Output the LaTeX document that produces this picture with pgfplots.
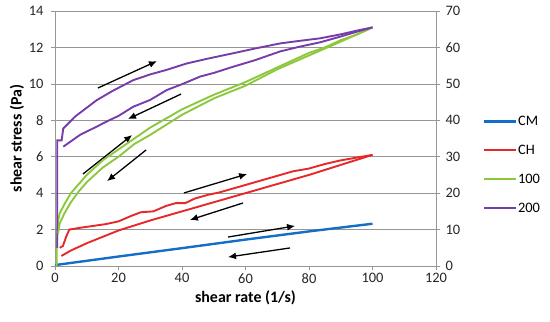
\documentclass[border=0pt]{standalone}
\usepackage{pgfplots}
\pgfplotsset{compat=1.18}
\usepackage{fontspec}
\setmainfont{Carlito}
\usetikzlibrary{arrows.meta}
\definecolor{cmblue}{RGB}{20,110,200}
\definecolor{chred}{RGB}{232,40,40}
\definecolor{grn}{RGB}{140,200,60}
\definecolor{purp}{RGB}{118,60,170}
\definecolor{gridgray}{RGB}{150,150,150}
\newcommand{\tfont}{\fontsize{14.5}{16}\selectfont}
\newcommand{\lfont}{\fontsize{16}{18}\selectfont}
\begin{document}
\begin{tikzpicture}
\pgfplotsset{
  every axis/.append style={
    scale only axis, width=381bp, height=255bp,
    xmin=0, xmax=120,
    /pgf/number format/assume math mode=true,
    axis line style={gridgray},
    tick style={gridgray, line width=0.6pt},
    major tick length=4bp,
    tick align=outside,
  },
  every tick label/.append style={font=\tfont, text=black!85},
}
\begin{axis}[
  ymin=0, ymax=14,
  xtick={0,20,...,120}, ytick={0,2,...,14},
  xtick pos=bottom, ytick pos=left,
  ymajorgrids, grid style={gridgray, line width=0.6pt},
  xlabel={\lfont\bfseries shear rate (1/s)},
  ylabel={\lfont\bfseries shear stress (Pa)},
  xlabel style={yshift=0bp},
  ylabel style={yshift=-2bp},
  yticklabel style={xshift=-4bp},
]
% CM
\addplot[cmblue, line width=2.4pt] coordinates {(0,0.05)(20,0.52)(40,0.98)(60,1.45)(80,1.9)(100,2.32)};
% CH up
\addplot[chred, line width=1.9pt] coordinates {
(1.5,1.0)(2.5,1.1)(3.5,1.6)(4.5,2.0)(8,2.1)(12,2.2)(16,2.3)(20,2.45)(24,2.75)(27,2.95)(31,3.0)(35,3.3)(38,3.45)(41,3.45)(44,3.7)(48,3.9)(52,4.05)(56,4.25)(60,4.45)(65,4.7)(70,4.95)(75,5.2)(80,5.35)(85,5.6)(90,5.8)(95,5.95)(100,6.1)};
% CH down
\addplot[chred, line width=1.9pt] coordinates {
(2,0.55)(5,0.85)(10,1.25)(15,1.6)(20,1.95)(30,2.5)(40,3.0)(50,3.5)(60,4.0)(70,4.5)(80,5.0)(90,5.55)(100,6.1)};
% arrows
\tikzset{annarrow/.style={-{Latex[length=8pt,width=7pt]}, line width=1.3pt}}
\draw[annarrow] (axis cs:13.5,9.77) -- (axis cs:32.1,11.25);
\draw[annarrow] (axis cs:39.7,9.44) -- (axis cs:23.0,8.07);
\draw[annarrow] (axis cs:8.8,5.05) -- (axis cs:24.3,7.19);
\draw[annarrow] (axis cs:28.7,6.37) -- (axis cs:16.4,4.66);
\draw[annarrow] (axis cs:40.6,4.01) -- (axis cs:60.5,5.05);
\draw[annarrow] (axis cs:59.2,3.46) -- (axis cs:42.5,2.53);
\draw[annarrow] (axis cs:54.5,1.59) -- (axis cs:75.6,2.20);
\draw[annarrow] (axis cs:74.0,0.99) -- (axis cs:54.5,0.49);
\end{axis}
\begin{axis}[
  ymin=0, ymax=70,
  ytick={0,10,...,70},
  axis x line=none,
  axis y line*=right,
  yticklabel style={xshift=2bp},
  legend style={at={(1.122,0.595)}, anchor=north west, draw=none, fill=none,
    font=\tfont, row sep=14pt, inner sep=0pt,
    legend cell align=left,
    nodes={inner xsep=1pt}},
  legend image code/.code={\draw[#1] (0bp,0.4bp) -- (32bp,0.4bp);},
]
\addlegendimage{cmblue, line width=2.4pt}
\addlegendentry{CM}
\addlegendimage{chred, line width=2.4pt}
\addlegendentry{CH}
\addlegendimage{grn, line width=2.4pt}
\addlegendentry{100}
\addlegendimage{purp, line width=2.4pt}
\addlegendentry{200}
% 100 up
\addplot[grn, line width=1.9pt, forget plot] coordinates {
(0.5,0)(0.5,5)(1,12.5)(1.5,14.5)(3,17)(5,20)(7.5,22.5)(10,25)(12.5,27)(15,29)(20,32)(25,35)(30,38)(35,40.5)(40,43)(45,45)(50,47)(55,48.75)(60,50.5)(65,52.5)(70,54.5)(75,56.5)(80,58.5)(85,60)(90,62)(95,63.5)(100,65.5)};
% 200 up
\addplot[purp, line width=1.9pt, forget plot] coordinates {
(0.7,5)(0.7,34.5)(2.1,34.5)(2.6,37.75)(6.3,41)(13.1,45.5)(18,48)(24.6,51)(30,52.6)(35,53.8)(41.5,55.6)(48,56.9)(56.1,58.4)(63,59.7)(70.9,61.1)(77,61.8)(83.5,62.5)(90,63.6)(95,64.6)(100,65.5)};
% 100 down
\addplot[grn, line width=1.9pt, forget plot] coordinates {
(1,9)(1.5,11.75)(3,14.5)(5,17.5)(7.5,20.5)(10,23)(15,27)(20,30)(25,33.5)(30,36)(40,41.5)(50,46)(60,49.5)(70,54)(80,57.8)(90,61.6)(100,65.5)};
% 200 down
\addplot[purp, line width=1.9pt, forget plot] coordinates {
(2.6,32.75)(7.9,36)(13.1,38.25)(17.3,40.1)(20,41.2)(24.6,43.7)(30,45.6)(35.2,48.3)(40,49.9)(45.7,52)(50,53)(56.1,54.7)(63,56.5)(70.9,58.9)(77,60.2)(83.5,61.4)(90,63)(95,64.3)(100,65.5)};
\end{axis}
\pgfresetboundingbox
\useasboundingbox (-55bp,-56bp) rectangle (495bp,266bp);
\end{tikzpicture}
\end{document}
